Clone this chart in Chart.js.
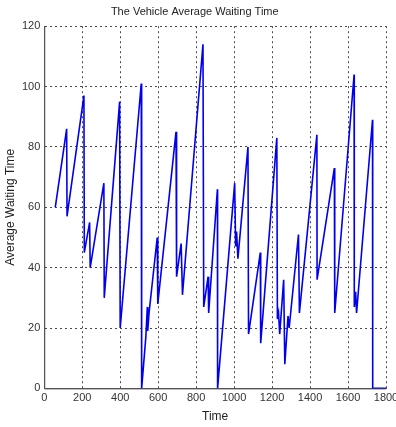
<!DOCTYPE html>
<html>
<head>
<meta charset="utf-8">
<script src="https://cdn.jsdelivr.net/npm/chart.js@4.4.3/dist/chart.umd.min.js"></script>
<style>
  html, body { margin: 0; padding: 0; background: #fff; }
  #wrap { width: 396px; height: 427px; }
</style>
</head>
<body>
<div id="wrap"><canvas id="c" width="396" height="427"></canvas></div>
<script>
  // values
  var timeData = [58, 118, 120, 209, 211, 239, 242, 314, 316, 397, 400, 511, 513, 535, 543, 545, 552, 595, 598,
    694, 697, 721, 728, 836, 840, 863, 866, 912, 913, 1003, 1008, 1013, 1020, 1073, 1076, 1138, 1140,
    1225, 1228, 1234, 1240, 1261, 1267, 1284, 1290, 1339, 1344, 1436, 1437, 1528, 1530, 1632, 1633,
    1640, 1645, 1729, 1730, 1800];
  var waitData = [60, 86, 57, 97, 45, 55, 40, 68, 30, 95, 20, 101, 0, 17, 27, 19, 25, 50, 28,
    85, 37, 48, 31, 114, 27, 37, 25, 66, 0, 68, 47, 52, 43, 80, 18, 45, 15,
    83, 23, 25, 18, 36, 8, 24, 20, 51, 25, 84, 36, 73, 25, 104, 27,
    32, 25, 89, 0, 0];
  var xTicks = [0, 200, 400, 600, 800, 1000, 1200, 1400, 1600, 1800];
  var yTicks = [0, 20, 40, 60, 80, 100, 120];

  var points = timeData.map(function (t, i) { return { x: t, y: waitData[i] }; });

  var FONT = 'Liberation Sans, Arial, sans-serif';

  var gridOpts = {
    color: '#4a4a4a',
    lineWidth: 1,
    drawTicks: false
  };

  function plain(v) { return String(v); }

  new Chart(document.getElementById('c'), {
    type: 'scatter',
    data: {
      datasets: [{
        data: points,
        showLine: true,
        borderColor: '#0000ee',
        backgroundColor: '#0000ee',
        borderWidth: 1.6,
        pointRadius: 0,
        tension: 0
      }]
    },
    options: {
      responsive: false,
      animation: false,
      layout: { padding: { left: 3.5, right: 10, top: 0, bottom: 3 } },
      plugins: {
        legend: { display: false },
        tooltip: { enabled: false },
        title: {
          display: true,
          text: 'The Vehicle Average Waiting Time',
          color: '#222',
          font: { family: FONT, size: 11, weight: 'normal' },
          padding: { top: 5, bottom: 8 }
        }
      },
      scales: {
        x: {
          type: 'linear',
          min: 0,
          max: 1800,
          afterBuildTicks: function (s) { s.ticks = xTicks.map(function (v) { return { value: v }; }); },
          // let the "1800" label run to the canvas edge like the original
          afterFit: function (s) { s.paddingRight = 0; },
          ticks: { color: '#333', font: { family: FONT, size: 11 }, padding: 3, maxRotation: 0, callback: plain },
          grid: gridOpts,
          border: { display: true, color: '#555', width: 1, dash: [2, 3] },
          title: { display: true, text: 'Time', color: '#222', font: { family: FONT, size: 12 }, padding: { top: 2, bottom: 0 } }
        },
        y: {
          min: 0,
          max: 120,
          afterBuildTicks: function (s) { s.ticks = yTicks.map(function (v) { return { value: v }; }); },
          ticks: { color: '#333', font: { family: FONT, size: 11 }, padding: 4, callback: plain },
          grid: gridOpts,
          border: { display: true, color: '#555', width: 1, dash: [2, 3] },
          title: { display: true, text: 'Average Waiting Time', color: '#222', font: { family: FONT, size: 12 }, padding: { top: 0, bottom: 0 } }
        }
      }
    },
    plugins: [{
      // solid left/bottom axis lines over the dashed grid
      id: 'axisLines',
      beforeDatasetsDraw: function (chart) {
        var a = chart.chartArea, ctx = chart.ctx;
        ctx.save();
        ctx.strokeStyle = '#555';
        ctx.lineWidth = 1;
        ctx.setLineDash([]);
        ctx.beginPath();
        ctx.moveTo(a.left + 0.5, a.top);
        ctx.lineTo(a.left + 0.5, a.bottom + 0.5);
        ctx.lineTo(a.right, a.bottom + 0.5);
        ctx.stroke();
        ctx.restore();
      }
    }]
  });
</script>
</body>
</html>
